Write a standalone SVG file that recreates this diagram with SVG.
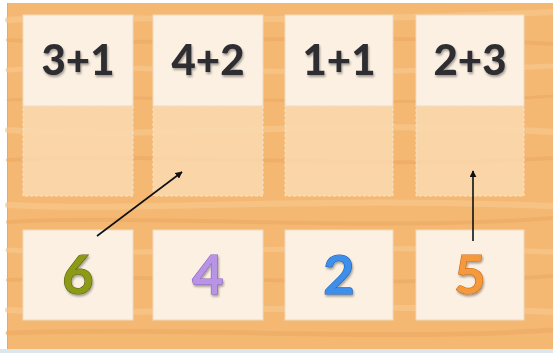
<svg xmlns="http://www.w3.org/2000/svg" width="553" height="353" viewBox="0 0 553 353">
<defs>
<style>
.card{fill:#fcf0e2;stroke:#efd9bf;stroke-width:1}
.zone{fill:#fbdcb4;fill-opacity:0.8;stroke:#f5e2cb;stroke-width:1;stroke-dasharray:3 2}
.eq{font-family:Lato,"Open Sans",sans-serif;font-weight:900;font-size:42px;fill:#2f2f30;text-anchor:middle}
.num{font-family:Lato,"Open Sans",sans-serif;font-weight:700;font-size:54px;text-anchor:middle;stroke-width:1.2;paint-order:stroke}
.grain{fill:none;stroke-linecap:round}
.conn{stroke:#111;stroke-width:1.6;fill:none}
</style>
<marker id="ah" viewBox="0 0 10 10" refX="9" refY="5" markerWidth="7" markerHeight="7" orient="auto-start-reverse" markerUnits="userSpaceOnUse">
<path d="M0,0 L10,5 L0,10 z" fill="#111"/>
</marker>
<filter id="sh" x="-10%" y="-10%" width="130%" height="130%">
<feDropShadow dx="1" dy="2" stdDeviation="1" flood-color="#000" flood-opacity="0.35"/>
</filter>
</defs>
<rect x="0" y="0" width="553" height="353" fill="#ffffff"/>
<rect x="8" y="3" width="545" height="346" fill="#f4b873"/>
<line x1="7.5" y1="3" x2="7.5" y2="349" stroke="#b9b4ae" stroke-width="1"/>
<rect x="0" y="349" width="553" height="4" fill="#dde6ec"/>
<g id="wood" opacity="0.7">
<path class="grain" stroke="#f8c88c" stroke-width="6" d="M8,20 C120,14 250,26 553,12"/>
<path class="grain" stroke="#efac66" stroke-width="4" d="M8,40 C150,48 300,30 553,44"/>
<path class="grain" stroke="#f8c88c" stroke-width="5" d="M8,70 C120,62 260,80 553,66"/>
<path class="grain" stroke="#efac66" stroke-width="3" d="M8,100 C200,92 350,110 553,96"/>
<path class="grain" stroke="#f8c88c" stroke-width="6" d="M8,130 C160,140 330,118 553,132"/>
<path class="grain" stroke="#efac66" stroke-width="4" d="M8,160 C180,152 360,170 553,158"/>
<path class="grain" stroke="#f8c88c" stroke-width="6" d="M8,205 C140,212 300,196 553,206"/>
<path class="grain" stroke="#efac66" stroke-width="4" d="M8,222 C160,214 380,232 553,218"/>
<path class="grain" stroke="#f8c88c" stroke-width="5" d="M8,250 C120,258 300,242 553,252"/>
<path class="grain" stroke="#efac66" stroke-width="4" d="M8,280 C200,272 360,290 553,276"/>
<path class="grain" stroke="#f8c88c" stroke-width="6" d="M8,310 C150,318 320,300 553,312"/>
<path class="grain" stroke="#efac66" stroke-width="5" d="M8,333 C180,326 380,342 553,330"/>
</g>
<g id="zone1"><rect class="zone" x="23" y="106" width="110" height="90"/></g>
<g id="zone2"><rect class="zone" x="153" y="106" width="110" height="90"/></g>
<g id="zone3"><rect class="zone" x="285" y="106" width="108" height="90"/></g>
<g id="zone4"><rect class="zone" x="416" y="106" width="108" height="90"/></g>
<g id="top1"><rect class="card" x="23" y="15" width="110" height="91"/><text class="eq" x="78" y="75" filter="url(#sh)">3+1</text></g>
<g id="top2"><rect class="card" x="153" y="15" width="110" height="91"/><text class="eq" x="208" y="75" filter="url(#sh)">4+2</text></g>
<g id="top3"><rect class="card" x="285" y="15" width="108" height="91"/><text class="eq" x="339" y="75" filter="url(#sh)">1+1</text></g>
<g id="top4"><rect class="card" x="416" y="15" width="108" height="91"/><text class="eq" x="470" y="75" filter="url(#sh)">2+3</text></g>
<g id="bot1"><rect class="card" x="23" y="230" width="110" height="90"/><text class="num" x="78" y="294" fill="#8c9a16" stroke="#5b6410" filter="url(#sh)">6</text></g>
<g id="bot2"><rect class="card" x="153" y="230" width="110" height="90"/><text class="num" x="208" y="294" fill="#b994e6" stroke="#8a62c0" filter="url(#sh)">4</text></g>
<g id="bot3"><rect class="card" x="285" y="230" width="108" height="90"/><text class="num" x="339" y="294" fill="#3d8fea" stroke="#1f62b8" filter="url(#sh)">2</text></g>
<g id="bot4"><rect class="card" x="416" y="230" width="108" height="90"/><text class="num" x="470" y="294" fill="#f5993c" stroke="#c86d1a" filter="url(#sh)">5</text></g>
<g id="connectors">
<line class="conn" x1="97" y1="236" x2="182" y2="172" marker-end="url(#ah)"/>
<line class="conn" x1="473" y1="241" x2="473" y2="171" marker-end="url(#ah)"/>
</g>
</svg>
